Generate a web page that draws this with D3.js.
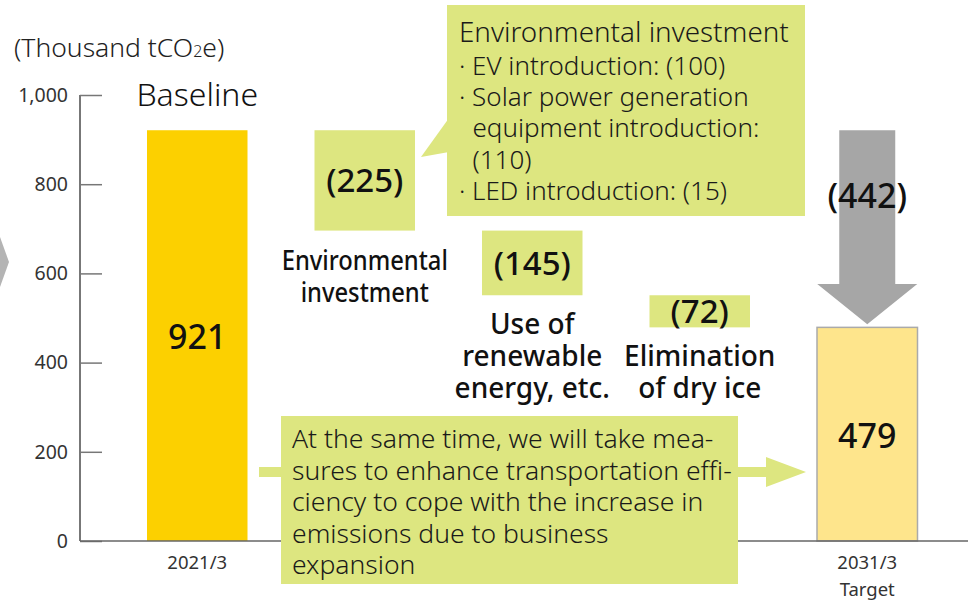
<!DOCTYPE html>
<html>
<head>
<meta charset="utf-8">
<script src="https://cdnjs.cloudflare.com/ajax/libs/d3/7.8.5/d3.min.js"></script>
<style>
  body { margin: 0; background: #fff; }
  svg { display: block; font-family: "Noto Sans", "Open Sans", sans-serif; }
</style>
</head>
<body>
<svg width="973" height="600"></svg>
<script>
// data
var categories = ["2021/3", "env", "renew", "dryice", "2031/3"];
var baselineValue = 921;
var reductions = [225, 145, 72];
var targetValue = 479;
var yTicks = [0, 200, 400, 600, 800, 1000];
var stepLabels = [["Environmental", "investment"], ["Use of", "renewable", "energy, etc."], ["Elimination", "of dry ice"]];
var calloutLines = ["Environmental investment", "· EV introduction: (100)", "· Solar power generation", "  equipment introduction:", "  (110)", "· LED introduction: (15)"];
var noteLines = ["At the same time, we will take mea-", "sures to enhance transportation effi-", "ciency to cope with the increase in", "emissions due to business", "expansion"];

var svg = d3.select("svg");

var x = d3.scaleBand()
    .domain(categories)
    .range([113.5, 951])
    .paddingInner(0.4)
    .paddingOuter(0.2);

var y = d3.scaleLinear()
    .domain([0, 1000])
    .range([541, 95]);

var green = "#dde680";

// left chevron tip
svg.append("path")
    .attr("d", "M0,237 L9,262 L0,287 Z")
    .attr("fill", "#b4b4b4");

// unit title
svg.append("text")
    .attr("x", 14).attr("y", 57)
    .style("font-size", "26.5px").style("font-weight", 300).attr("fill", "#222")
    .text("(Thousand tCO")
    .append("tspan").style("font-size", "16px").text("2")
    .select(function () { return this.parentNode; })
    .append("tspan").text("e)");

// y axis
var yAxis = svg.append("g")
    .attr("transform", "translate(80,0)")
    .call(d3.axisRight(y).tickValues(yTicks).tickSize(22).tickFormat(d3.format(",")));
yAxis.select(".domain").remove();
yAxis.selectAll(".tick line").attr("stroke", "#777").attr("stroke-width", 1.5);
yAxis.selectAll(".tick text")
    .attr("x", -12).attr("text-anchor", "end")
    .style("font-size", "19.5px").style("font-family", "'Noto Sans', sans-serif")
    .attr("fill", "#333");

svg.append("line")
    .attr("x1", 80).attr("x2", 80).attr("y1", y(1000)).attr("y2", y(0))
    .attr("stroke", "#777").attr("stroke-width", 2);

// waterfall steps
var levels = [];
var cur = baselineValue;
reductions.forEach(function (r, i) {
    levels.push({ cat: categories[i + 1], top: cur, bottom: cur - r, value: r, label: stepLabels[i] });
    cur -= r;
});

svg.selectAll("rect.step")
    .data(levels)
    .enter().append("rect")
    .attr("class", "step")
    .attr("x", function (d) { return x(d.cat); })
    .attr("width", x.bandwidth())
    .attr("y", function (d) { return y(d.top); })
    .attr("height", function (d) { return y(d.bottom) - y(d.top); })
    .attr("fill", green);

// callout pointer and box
svg.append("path")
    .attr("d", "M421,157 L449,118 L449,152 Z")
    .attr("fill", green);
svg.append("rect")
    .attr("x", 447).attr("y", 5).attr("width", 358).attr("height", 211)
    .attr("fill", green);
svg.append("g").selectAll("text")
    .data(calloutLines)
    .enter().append("text")
    .attr("x", 459)
    .attr("y", function (d, i) { return i === 0 ? 42 : 75 + (i - 1) * 31.2; })
    .attr("xml:space", "preserve")
    .style("white-space", "pre")
    .style("font-size", function (d, i) { return i === 0 ? "27.8px" : "26px"; })
    .style("font-weight", 300)
    .attr("fill", "#1a1a1a")
    .text(function (d) { return d; });

// step value labels
svg.selectAll("text.stepval")
    .data(levels)
    .enter().append("text")
    .attr("class", "stepval")
    .attr("x", function (d) { return x(d.cat) + x.bandwidth() / 2; })
    .attr("y", function (d, i) { return (y(d.top) + y(d.bottom)) / 2 + 12; })
    .attr("text-anchor", "middle")
    .style("font-size", "33px").style("font-weight", 500)
    .attr("fill", "#111")
    .text(function (d) { return "(" + d.value + ")"; });

// step category labels
var labelPos = [{ y: 270, sx: 0.88 }, { y: 334, sx: 1 }, { y: 366, sx: 1 }];
levels.forEach(function (d, i) {
    var t = svg.append("text")
        .attr("text-anchor", "middle")
        .attr("fill", "#111")
        .style("font-weight", 500)
        .style("font-size", i === 0 ? "27px" : "28px")
        .attr("transform", "translate(" + (x(d.cat) + x.bandwidth() / 2) + "," + labelPos[i].y + ") scale(" + labelPos[i].sx + ",1)");
    t.selectAll("tspan")
        .data(d.label)
        .enter().append("tspan")
        .attr("x", 0)
        .attr("y", function (l, j) { return j * 32; })
        .text(function (l) { return l; });
});

// baseline bar
svg.append("rect")
    .attr("x", x(categories[0])).attr("width", x.bandwidth())
    .attr("y", y(baselineValue)).attr("height", y(0) - y(baselineValue))
    .attr("fill", "#fcd000");
svg.append("text")
    .attr("x", x(categories[0]) + x.bandwidth() / 2).attr("y", 349)
    .attr("text-anchor", "middle")
    .style("font-size", "34px").style("font-weight", 500).attr("fill", "#111")
    .text(baselineValue);
svg.append("text")
    .attr("x", x(categories[0]) + x.bandwidth() / 2).attr("y", 106)
    .attr("text-anchor", "middle")
    .style("font-size", "32px").style("font-weight", 300).attr("fill", "#111")
    .text("Baseline");

// target bar
var tx = x(categories[4]);
svg.append("rect")
    .attr("x", tx).attr("width", x.bandwidth())
    .attr("y", y(targetValue)).attr("height", y(0) - y(targetValue))
    .attr("fill", "#fee58c").attr("stroke", "#aaa").attr("stroke-width", 1.5);
svg.append("text")
    .attr("x", tx + x.bandwidth() / 2).attr("y", 448)
    .attr("text-anchor", "middle")
    .style("font-size", "34px").style("font-weight", 500).attr("fill", "#111")
    .text(targetValue);

// total reduction arrow
var total = baselineValue - targetValue;
var cx = tx + x.bandwidth() / 2;
var shaft = 28, head = 50;
var arrowTop = y(baselineValue), headStart = y(targetValue + 97), tip = y(targetValue) - 3;
svg.append("path")
    .attr("d", "M" + (cx - shaft) + "," + arrowTop + " L" + (cx + shaft) + "," + arrowTop +
        " L" + (cx + shaft) + "," + headStart + " L" + (cx + head) + "," + headStart +
        " L" + cx + "," + tip + " L" + (cx - head) + "," + headStart +
        " L" + (cx - shaft) + "," + headStart + " Z")
    .attr("fill", "#a6a6a6");
svg.append("text")
    .attr("x", cx).attr("y", 208)
    .attr("text-anchor", "middle")
    .style("font-size", "34px").style("font-weight", 500).attr("fill", "#111")
    .text("(" + total + ")");

// x baseline
svg.append("line")
    .attr("x1", 80).attr("x2", 968).attr("y1", y(0)).attr("y2", y(0))
    .attr("stroke", "#666").attr("stroke-width", 1.5);

// green arrow + note box
svg.append("rect").attr("x", 259).attr("y", 467).attr("width", 30).attr("height", 10).attr("fill", green);
svg.append("path")
    .attr("d", "M730,467 L766,467 L766,457 L806,472 L766,487 L766,477 L730,477 Z")
    .attr("fill", green);
svg.append("rect")
    .attr("x", 281).attr("y", 416).attr("width", 457).attr("height", 168)
    .attr("fill", green);
svg.append("g").selectAll("text")
    .data(noteLines)
    .enter().append("text")
    .attr("x", 292)
    .attr("y", function (d, i) { return 448 + i * 31.5; })
    .style("font-size", "26.5px").style("font-weight", 300)
    .attr("fill", "#1a1a1a")
    .text(function (d) { return d; });

// x labels
var xLabelStyle = function (sel) {
    sel.attr("text-anchor", "middle")
        .style("font-size", "18.5px").style("font-family", "'Noto Sans', sans-serif").attr("fill", "#333");
};
svg.append("text")
    .attr("x", x(categories[0]) + x.bandwidth() / 2).attr("y", 569)
    .call(xLabelStyle)
    .text(categories[0]);
svg.append("text")
    .attr("x", cx).attr("y", 569)
    .call(xLabelStyle)
    .text(categories[4]);
svg.append("text")
    .attr("x", cx).attr("y", 596)
    .call(xLabelStyle)
    .text("Target");
</script>
</body>
</html>
